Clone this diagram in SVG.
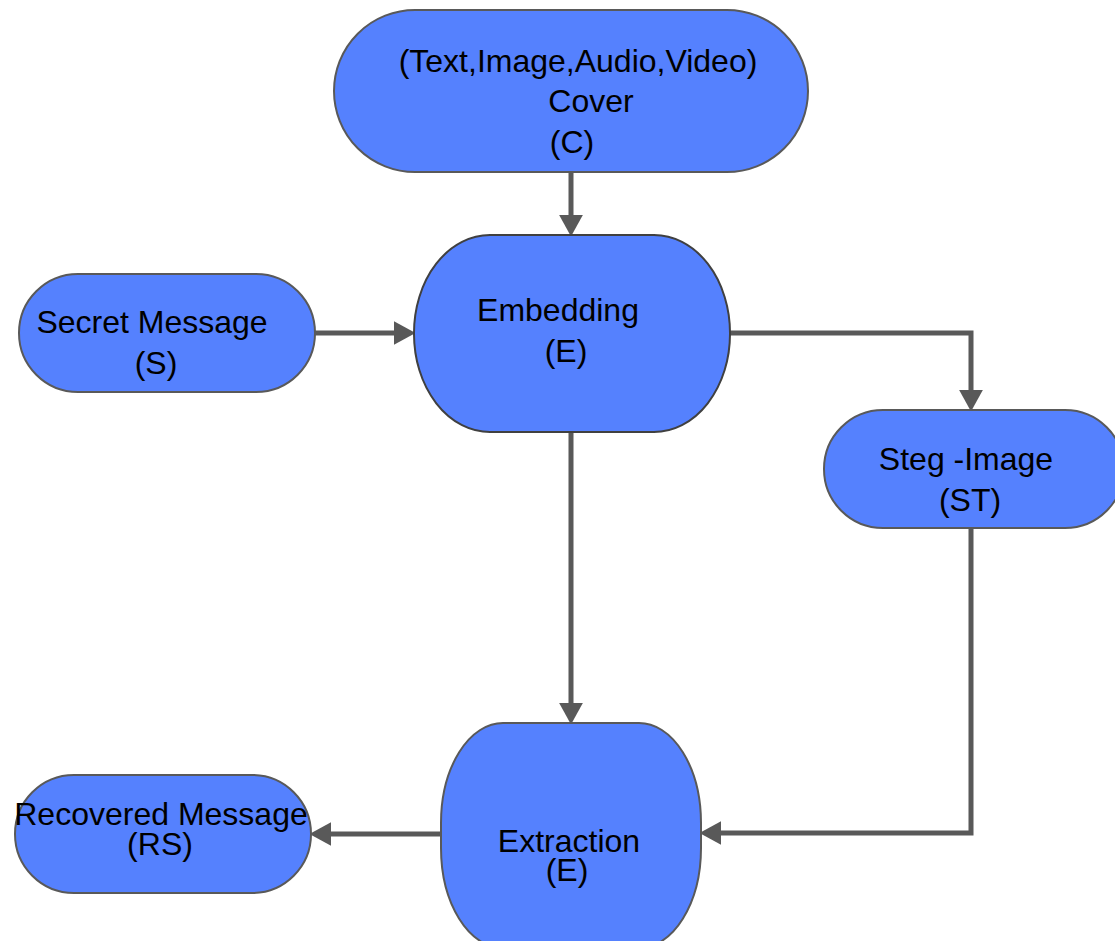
<svg xmlns="http://www.w3.org/2000/svg" width="1115" height="941" viewBox="0 0 1115 941">
<style>
.node{fill:#5581fe;stroke:#595959;stroke-width:2}
.lbl{font-family:"Liberation Sans",Arial,sans-serif;font-size:32px;fill:#000;text-anchor:middle}
.conn{fill:none;stroke:#595959;stroke-width:5}
</style>
<defs>
<marker id="arr" markerUnits="userSpaceOnUse" markerWidth="22" markerHeight="24" viewBox="0 0 20 22" refX="3" refY="11" orient="auto">
<path d="M0,0 L20,11 L0,22 z" fill="#595959"/>
</marker>
</defs>
<rect width="1115" height="941" fill="#fff"/>
<g id="connectors">
<path class="conn" d="M571,172 V218" marker-end="url(#arr)"/>
<path class="conn" d="M315,333 H397" marker-end="url(#arr)"/>
<path class="conn" d="M730,333 H971 V393" marker-end="url(#arr)"/>
<path class="conn" d="M571,432 V706" marker-end="url(#arr)"/>
<path class="conn" d="M971,528 V833 H718" marker-end="url(#arr)"/>
<path class="conn" d="M441,834 H328" marker-end="url(#arr)"/>
</g>
<g id="cover">
<rect class="node" x="334" y="10" width="474" height="162" rx="81" ry="81"/>
<text class="lbl" x="578" y="72">(Text,Image,Audio,Video)</text>
<text class="lbl" x="591" y="112">Cover</text>
<text class="lbl" x="572" y="153">(C)</text>
</g>
<g id="embedding">
<rect class="node" x="414" y="235" width="316" height="197" rx="76" ry="98" style="stroke:#404040"/>
<text class="lbl" x="558" y="321">Embedding</text>
<text class="lbl" x="566" y="362">(E)</text>
</g>
<g id="secret">
<rect class="node" x="19" y="274" width="296" height="118" rx="59" ry="59"/>
<text class="lbl" x="152" y="333">Secret Message</text>
<text class="lbl" x="156" y="374">(S)</text>
</g>
<g id="steg">
<rect class="node" x="824" y="410" width="300" height="118" rx="59" ry="59"/>
<text class="lbl" x="966" y="470">Steg -Image</text>
<text class="lbl" x="970" y="511">(ST)</text>
</g>
<g id="extraction">
<rect class="node" x="441" y="723" width="260" height="225" rx="62" ry="100"/>
<text class="lbl" x="569" y="852">Extraction</text>
<text class="lbl" x="567" y="881">(E)</text>
</g>
<g id="recovered">
<rect class="node" x="15" y="775" width="296" height="118" rx="59" ry="59"/>
<text class="lbl" x="161" y="825">Recovered Message</text>
<text class="lbl" x="160" y="855">(RS)</text>
</g>
</svg>
